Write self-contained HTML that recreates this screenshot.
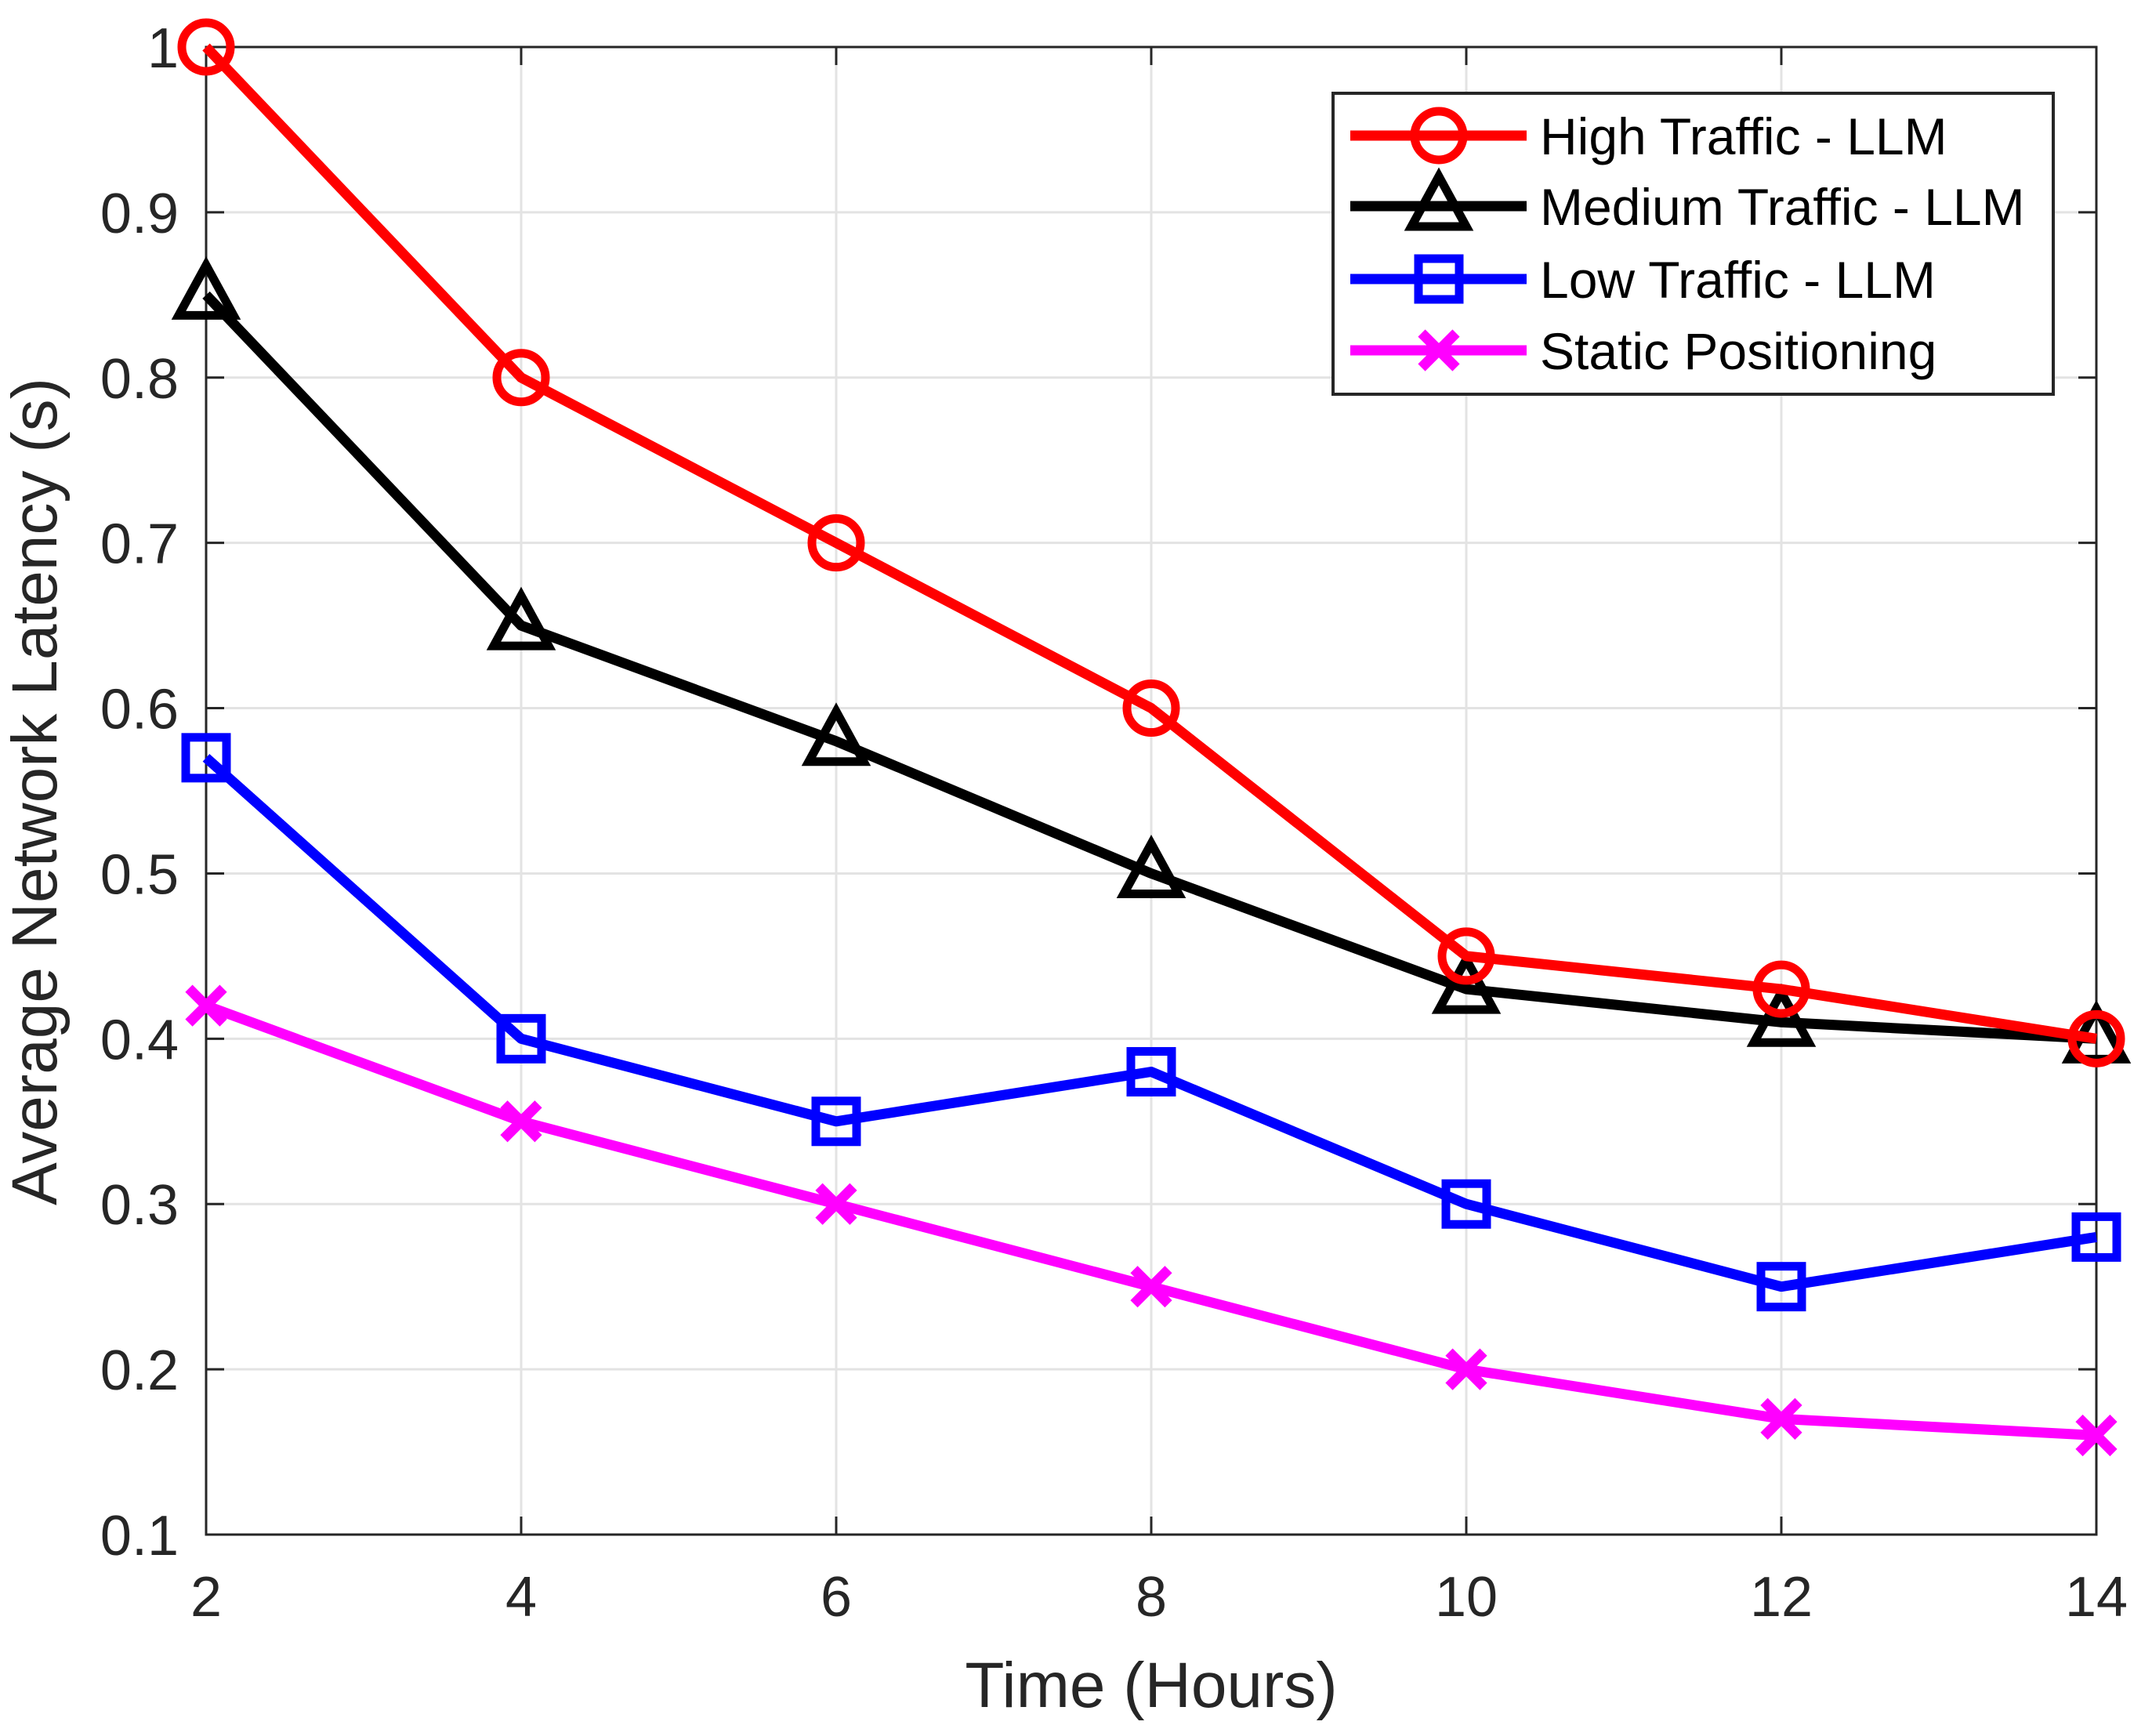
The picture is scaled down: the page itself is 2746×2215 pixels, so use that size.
<!DOCTYPE html>
<html><head><meta charset="utf-8"><style>
html,body{margin:0;padding:0;background:#fff;}
svg{display:block;font-family:"Liberation Sans",Arial,sans-serif;}
</style></head><body>
<svg id="chart" width="2746" height="2215" viewBox="0 0 2746 2215" xmlns="http://www.w3.org/2000/svg">
<g id="grid"></g>
<g id="axes"></g>
<g id="series"></g>
<g id="legend"></g>
</svg>
<script>
const xValues = [2, 4, 6, 8, 10, 12, 14];
const highTraffic = [1.0, 0.8, 0.7, 0.6, 0.45, 0.43, 0.40];
const mediumTraffic = [0.85, 0.65, 0.58, 0.50, 0.43, 0.41, 0.40];
const lowTraffic = [0.57, 0.40, 0.35, 0.38, 0.30, 0.25, 0.28];
const staticPositioning = [0.42, 0.35, 0.30, 0.25, 0.20, 0.17, 0.16];
const xTicks = [2, 4, 6, 8, 10, 12, 14];
const yTicks = [0.1, 0.2, 0.3, 0.4, 0.5, 0.6, 0.7, 0.8, 0.9, 1];
const seriesNames = ["High Traffic - LLM", "Medium Traffic - LLM", "Low Traffic - LLM", "Static Positioning"];

const NS = "http://www.w3.org/2000/svg";
const L = 263, R = 2675, T = 60, B = 1958;
const xMin = 2, xMax = 14, yMin = 0.1, yMax = 1.0;
function sx(v){ return L + (v - xMin) / (xMax - xMin) * (R - L); }
function sy(v){ return B - (v - yMin) / (yMax - yMin) * (B - T); }
function mk(tag, attrs, parent){
  const e = document.createElementNS(NS, tag);
  for (const k in attrs) e.setAttribute(k, attrs[k]);
  parent.appendChild(e); return e;
}
const grid = document.getElementById('grid');
const axes = document.getElementById('axes');
const series = document.getElementById('series');
const legend = document.getElementById('legend');

xTicks.forEach(t => {
  const x = sx(t);
  const g = mk('line', {x1:x, x2:x, y1:T, y2:B, stroke:'#e3e3e3', 'stroke-width':3}, grid);
  
  
  mk('line', {x1:x, x2:x, y1:B, y2:B-23, stroke:'#262626', 'stroke-width':3}, axes);
  mk('line', {x1:x, x2:x, y1:T, y2:T+23, stroke:'#262626', 'stroke-width':3}, axes);
  const tx = mk('text', {x:x, y:2062, 'font-size':72, 'text-anchor':'middle', fill:'#262626'}, axes);
  tx.textContent = t;
  
  
});
yTicks.forEach(t => {
  const y = sy(t);
  const g = mk('line', {x1:L, x2:R, y1:y, y2:y, stroke:'#e3e3e3', 'stroke-width':3}, grid);
  
  
  mk('line', {x1:L, x2:L+23, y1:y, y2:y, stroke:'#262626', 'stroke-width':3}, axes);
  mk('line', {x1:R, x2:R-23, y1:y, y2:y, stroke:'#262626', 'stroke-width':3}, axes);
  const tx = mk('text', {x:228, y:y+26, 'font-size':72, 'text-anchor':'end', fill:'#262626'}, axes);
  tx.textContent = String(t);
  
  
});
const box = mk('rect', {x:L, y:T, width:R-L, height:B-T, fill:'none', stroke:'#262626', 'stroke-width':3}, axes);


const xt = mk('text', {x:(L+R)/2, y:2178, 'font-size':82, 'text-anchor':'middle', fill:'#262626'}, axes);
xt.textContent = 'Time (Hours)';


const yt = mk('text', {x:0, y:0, 'font-size':82, 'text-anchor':'middle', fill:'#262626', transform:'translate(72,1010) rotate(-90)'}, axes);
yt.textContent = 'Average Network Latency (s)';



function marker(type, x, y, color, parent){
  let e;
  if (type === 'circle') e = mk('circle', {cx:x, cy:y, r:31, fill:'none', stroke:color, 'stroke-width':11}, parent);
  else if (type === 'tri') e = mk('polygon', {points:`${x},${y-38} ${x+35},${y+26} ${x-35},${y+26}`, fill:'none', stroke:color, 'stroke-width':11}, parent);
  else if (type === 'square') e = mk('rect', {x:x-26, y:y-26, width:52, height:52, fill:'none', stroke:color, 'stroke-width':11}, parent);
  else e = mk('path', {d:`M${x-22},${y-22}L${x+22},${y+22}M${x+22},${y-22}L${x-22},${y+22}`, stroke:color, 'stroke-width':13, fill:'none'}, parent);
  return e;
}
const defs = [
  {data: highTraffic, color:'#ff0000', m:'circle', name:'high-traffic'},
  {data: mediumTraffic, color:'#000000', m:'tri', name:'medium-traffic'},
  {data: lowTraffic, color:'#0000ff', m:'square', name:'low-traffic'},
  {data: staticPositioning, color:'#ff00ff', m:'x', name:'static-positioning'}
];
defs.slice().reverse().forEach(d => {
  const g = mk('g', {}, series);
  
  
  const pts = d.data.map((v,i) => sx(xValues[i]) + ',' + sy(v)).join(' ');
  const pl = mk('polyline', {points:pts, fill:'none', stroke:d.color, 'stroke-width':13, 'stroke-linejoin':'round'}, g);
  
  
  d.data.forEach((v,i) => {
    const m = marker(d.m, sx(xValues[i]), sy(v), d.color, g);
    
    
  });
});

const lb = mk('rect', {x:1701, y:119, width:919, height:384, fill:'#fff', stroke:'#262626', 'stroke-width':4}, legend);


const rowY = [173, 263, 356, 447];
defs.forEach((d,i) => {
  const g = mk('g', {}, legend);
  
  
  mk('line', {x1:1723, x2:1948, y1:rowY[i], y2:rowY[i], stroke:d.color, 'stroke-width':13}, g);
  marker(d.m, 1836, rowY[i], d.color, g);
  const t = mk('text', {x:1965, y:rowY[i]+24, 'font-size':66, fill:'#000'}, g);
  t.textContent = seriesNames[i];
});
</script>
</body></html>
